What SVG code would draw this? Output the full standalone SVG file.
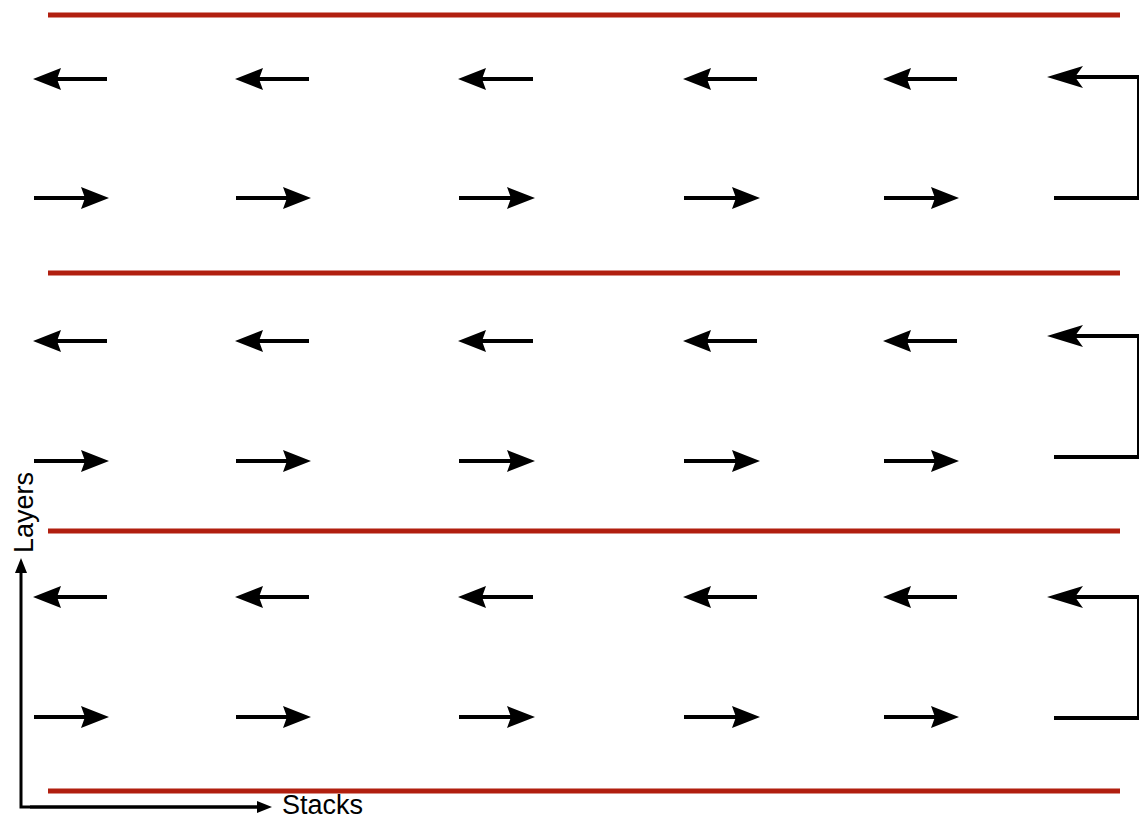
<svg xmlns="http://www.w3.org/2000/svg" width="1139" height="819" viewBox="0 0 1139 819">
<style>
.sep{stroke:#b11f0f;stroke-width:5;fill:none}
.arr{stroke:#000;stroke-width:4;fill:none;marker-end:url(#head)}
.loop{stroke:#000;stroke-width:4;fill:none;marker-end:url(#bighead)}
.axis{stroke:#000;stroke-width:3;fill:none;marker-end:url(#axhead)}
.lbl{font-family:"Liberation Sans",Arial,sans-serif;font-size:27px;fill:#000}
</style>
<defs>
<marker id="head" viewBox="0 0 28 22" refX="6" refY="11" markerWidth="28" markerHeight="22" markerUnits="userSpaceOnUse" orient="auto"><path d="M0,0 L28,11 L0,22 L4,11 Z" fill="#000"/></marker>
<marker id="bighead" viewBox="0 0 36 22" refX="8" refY="11" markerWidth="36" markerHeight="22" markerUnits="userSpaceOnUse" orient="auto"><path d="M0,0 L36,11 L0,22 L8,11 Z" fill="#000"/></marker>
<marker id="axhead" viewBox="0 0 15 12" refX="2" refY="6" markerWidth="15" markerHeight="12" markerUnits="userSpaceOnUse" orient="auto"><path d="M0,0 L15,6 L0,12 Z" fill="#000"/></marker>
</defs>
<rect width="1139" height="819" fill="#fff"/>
<g id="separators">
<line class="sep" x1="48" y1="15" x2="1120" y2="15"/>
<line class="sep" x1="48" y1="273" x2="1120" y2="273"/>
<line class="sep" x1="48" y1="531" x2="1120" y2="531"/>
<line class="sep" x1="48" y1="791" x2="1120" y2="791"/>
</g>
<g id="connectors">
<line class="arr" x1="107" y1="79" x2="55" y2="79"/>
<line class="arr" x1="309" y1="79" x2="257" y2="79"/>
<line class="arr" x1="533" y1="79" x2="480" y2="79"/>
<line class="arr" x1="757" y1="79" x2="705" y2="79"/>
<line class="arr" x1="957" y1="79" x2="905" y2="79"/>
<line class="arr" x1="34" y1="198" x2="87" y2="198"/>
<line class="arr" x1="236" y1="198" x2="289" y2="198"/>
<line class="arr" x1="459" y1="198" x2="513" y2="198"/>
<line class="arr" x1="684" y1="198" x2="738" y2="198"/>
<line class="arr" x1="884" y1="198" x2="937" y2="198"/>
<path class="loop" d="M1054,198 H1139 V77 H1075"/>
<line class="arr" x1="107" y1="341" x2="55" y2="341"/>
<line class="arr" x1="309" y1="341" x2="257" y2="341"/>
<line class="arr" x1="533" y1="341" x2="480" y2="341"/>
<line class="arr" x1="757" y1="341" x2="705" y2="341"/>
<line class="arr" x1="957" y1="341" x2="905" y2="341"/>
<line class="arr" x1="34" y1="461" x2="87" y2="461"/>
<line class="arr" x1="236" y1="461" x2="289" y2="461"/>
<line class="arr" x1="459" y1="461" x2="513" y2="461"/>
<line class="arr" x1="684" y1="461" x2="738" y2="461"/>
<line class="arr" x1="884" y1="461" x2="937" y2="461"/>
<path class="loop" d="M1054,457 H1139 V336 H1075"/>
<line class="arr" x1="107" y1="597" x2="55" y2="597"/>
<line class="arr" x1="309" y1="597" x2="257" y2="597"/>
<line class="arr" x1="533" y1="597" x2="480" y2="597"/>
<line class="arr" x1="757" y1="597" x2="705" y2="597"/>
<line class="arr" x1="957" y1="597" x2="905" y2="597"/>
<line class="arr" x1="34" y1="717" x2="87" y2="717"/>
<line class="arr" x1="236" y1="717" x2="289" y2="717"/>
<line class="arr" x1="459" y1="717" x2="513" y2="717"/>
<line class="arr" x1="684" y1="717" x2="738" y2="717"/>
<line class="arr" x1="884" y1="717" x2="937" y2="717"/>
<path class="loop" d="M1054,718 H1139 V597 H1075"/>
</g>
<g id="axes">
<path class="axis" d="M259,807 H21 V571"/>
<line class="axis" x1="30" y1="807" x2="259" y2="807"/>
</g>
<g id="labels">
<text class="lbl" x="282" y="814">Stacks</text>
<text class="lbl" transform="translate(33,553) rotate(-90)">Layers</text>
</g>
</svg>
